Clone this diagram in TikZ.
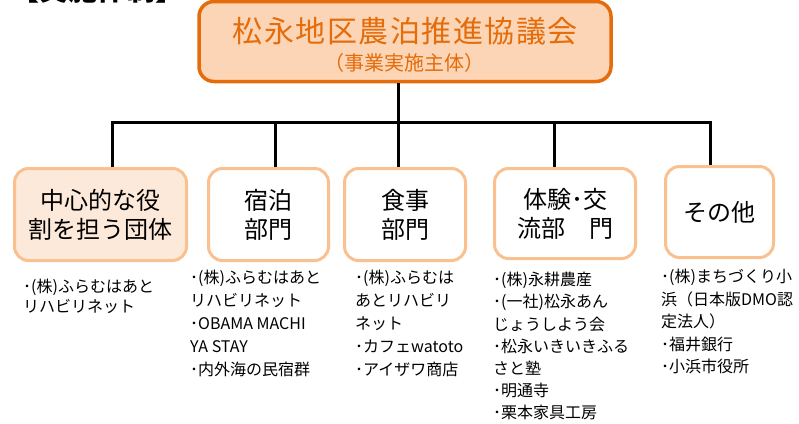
\documentclass[tikz,border=0pt]{standalone}
\usepackage{fontspec}
\setmainfont{Noto Sans CJK JP}
\definecolor{dkorange}{HTML}{E46C0A}
\definecolor{peach}{HTML}{FBD5B5}
\definecolor{ltpeach}{HTML}{FDE9D9}
\definecolor{ltorange}{HTML}{FAC090}
\tikzset{
  topbox/.style={draw=dkorange, line width=3.5pt, fill=peach, rounded corners=15pt,
    minimum width=412pt, minimum height=80pt, inner sep=0pt},
  subbox/.style={draw=ltorange, line width=3pt, fill=white, rounded corners=14pt,
    inner sep=0pt, align=center, font=\fontsize{24}{29}\selectfont},
  desc/.style={anchor=north west, inner sep=0pt, align=left},
  link/.style={line width=3pt, draw=black}
}
\begin{document}
\begin{tikzpicture}[x=1pt,y=-1pt]
\useasboundingbox (0,0) rectangle (799,423);
% header (cut off at the top)
\node[anchor=base west, inner sep=0pt, font=\fontsize{29}{29}\selectfont\bfseries] (hdr) at (10,1) {【実施体制】};
% top box
\node[topbox] (top) at (405,41.5) {};
\node[inner sep=0pt, text=dkorange, font=\fontsize{30}{30}\selectfont\addfontfeature{LetterSpace=5}] (t1) at (405,31) {松永地区農泊推進協議会};
\node[inner sep=0pt, text=dkorange, font=\fontsize{20}{20}\selectfont] (t2) at (404,63) {（事業実施主体）};
% junction coordinates
\coordinate (h1) at (112,122);
\coordinate (h2) at (275,122);
\coordinate (h3) at (398,122);
\coordinate (h4) at (554,122);
\coordinate (h5) at (710,122);
% sub boxes
\node[subbox, fill=ltpeach, minimum width=172pt, minimum height=92pt] (b1) at (100.5,214.5) {中心的な役\\割を担う団体};
\node[subbox, minimum width=120pt, minimum height=92pt] (b2) at (268.5,214.5) {宿泊\\部門};
\node[subbox, minimum width=121pt, minimum height=92pt] (b3) at (405,214.5) {食事\\部門};
\node[subbox, minimum width=141pt, minimum height=90pt] (b4) at (565,213.5) {体験･交\\流部　門};
\node[subbox, minimum width=108pt, minimum height=91pt] (b5) at (719.5,212) {その他};
% connectors
\draw[link] (h1 |- b1.north) -- (h1) -- (h5) -- (h5 |- b5.north);
\draw[link] (h3 |- top.south) -- (h3 |- b3.north);
\draw[link] (h2) -- (h2 |- b2.north);
\draw[link] (h4) -- (h4 |- b4.north);
% descriptions
\node[desc, font=\fontsize{16}{20}\selectfont] (d1) at (23,279) {･(株)ふらむはあと\\リハビリネット};
\node[desc, font=\fontsize{16}{22.9}\selectfont] (d2) at (190,270) {･(株)ふらむはあと\\リハビリネット\\･OBAMA MACHI\\YA STAY\\･内外海の民宿群};
\node[desc, font=\fontsize{16}{22.9}\selectfont] (d3) at (355,270) {･(株)ふらむは\\あとリハビリ\\ネット\\･カフェwatoto\\･アイザワ商店};
\node[desc, font=\fontsize{16}{22.2}\selectfont] (d4) at (493,272) {･(株)永耕農産\\･(一社)松永あん\\じょうしよう会\\･松永いきいきふる\\さと塾\\･明通寺\\･栗本家具工房};
\node[desc, font=\fontsize{16}{22.5}\selectfont] (d5) at (661,269) {･(株)まちづくり小\\浜（日本版DMO認\\定法人）\\･福井銀行\\･小浜市役所};
\end{tikzpicture}
\end{document}
